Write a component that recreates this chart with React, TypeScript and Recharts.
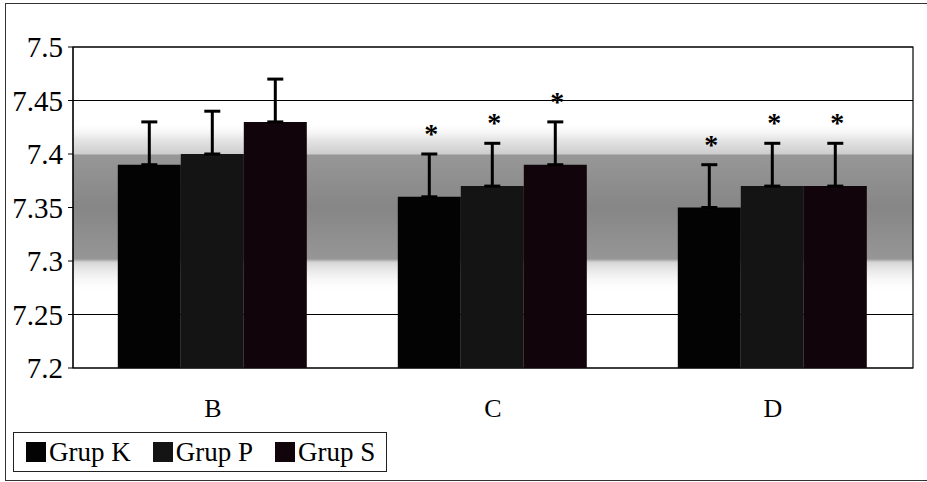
import { Bar, BarChart, CartesianGrid, ErrorBar, LabelList, ReferenceArea, XAxis, YAxis } from "recharts";

const categories = ["B", "C", "D"];
const grupK = [7.39, 7.36, 7.35];
const grupP = [7.4, 7.37, 7.37];
const grupS = [7.43, 7.39, 7.37];
const errK = [0.04, 0.04, 0.04];
const errP = [0.04, 0.04, 0.04];
const errS = [0.04, 0.04, 0.04];
const starK = [false, true, true];
const starP = [false, true, true];
const starS = [false, true, true];
const yTicks = [7.2, 7.25, 7.3, 7.35, 7.4, 7.45, 7.5];
const edgeTicks = [0, 1, 2, 3];

const Y_MIN = 7.2;
const FONT = "Liberation Serif";

const series = [
  { key: "K", name: "Grup K", err: errK, stars: starK, color: "#030303" },
  { key: "P", name: "Grup P", err: errP, stars: starP, color: "#141414" },
  { key: "S", name: "Grup S", err: errS, stars: starS, color: "#11040a" },
];

const data = categories.map((cat, i) => ({
  cat,
  edge: i + 0.5,
  K: grupK[i], P: grupP[i], S: grupS[i],
  errK: [0, errK[i]], errP: [0, errP[i]], errS: [0, errS[i]],
}));

// asterisk above the error cap; bar height gives the px-per-unit
function starLabel(stars: boolean[], errs: number[]) {
  return (p: any) => {
    const { x, y, width, height, value, index } = p;
    if (!stars[index]) return null;
    const perUnit = height / (Number(value) - Y_MIN);
    const capY = y - errs[index] * perUnit;
    return (
      <text key={`star-${index}`} x={x + width / 2 + 2} y={capY - 11} textAnchor="middle"
            fontSize={28} fontWeight="bold" fontFamily={FONT} fill="#000">*</text>
    );
  };
}

function LegendBox() {
  return (
    <div style={{ position: "absolute", left: 13, top: 432, width: 372, height: 38,
                  border: "1px solid #222", background: "#fff", display: "flex",
                  alignItems: "center", fontFamily: FONT, fontSize: 27 }}>
      {series.map((s, i) => (
        <div key={s.key} style={{ display: "flex", alignItems: "center",
                                  marginLeft: i === 0 ? 12 : 22 }}>
          <span style={{ width: 20, height: 20, background: s.color, display: "inline-block",
                         marginRight: 3 }} />
          <span style={{ lineHeight: "26px" }}>{s.name}</span>
        </div>
      ))}
    </div>
  );
}

export default function App() {
  return (
    <div style={{ position: "absolute", left: 0, top: 0, width: 927, height: 482,
                  background: "#fff", overflow: "hidden" }}>
      <div style={{ position: "absolute", left: 5, top: 3, width: 925, height: 476,
                    border: "1px solid #333" }} />
      <BarChart width={927} height={482} data={data} barCategoryGap="16%" barGap={0}
                margin={{ top: 47, right: 14, bottom: 54, left: 0 }}
                style={{ position: "absolute", left: 0, top: 0 }}>
        <defs>
          <linearGradient id="band" x1="0" y1="0" x2="0" y2="1">
            <stop offset="0" stopColor="#ffffff" stopOpacity={0} />
            <stop offset="0.1" stopColor="#e6e6e6" />
            <stop offset="0.185" stopColor="#cecece" />
            <stop offset="0.195" stopColor="#979797" />
            <stop offset="0.5" stopColor="#868686" />
            <stop offset="0.8" stopColor="#969696" />
            <stop offset="0.82" stopColor="#d6d6d6" />
            <stop offset="1" stopColor="#ffffff" stopOpacity={0} />
          </linearGradient>
        </defs>
        <ReferenceArea xAxisId="cat" y1={7.27} y2={7.43} fill="url(#band)" fillOpacity={1}
                       stroke="none" />
        <CartesianGrid vertical={false} stroke="#000" strokeWidth={1.2} xAxisId="cat" />
        <XAxis xAxisId="edge" type="number" dataKey="edge" domain={[0, 3]} ticks={edgeTicks}
               height={0} tick={false} tickSize={6} stroke="#000" allowDecimals />
        <XAxis xAxisId="cat" dataKey="cat" height={60} tickLine={false} axisLine={false}
               tickSize={6} tickMargin={25}
               tick={{ fill: "#000", fontSize: 26, fontFamily: FONT }} />
        <YAxis domain={[7.2, 7.5]} ticks={yTicks} width={73} tickSize={5} tickMargin={5}
               stroke="#000" interval={0} tickFormatter={(v: number) => String(v)}
               tick={{ fill: "#000", fontSize: 29, fontFamily: FONT }} />
        {series.map((s) => (
          <Bar key={s.key} xAxisId="cat" dataKey={s.key} name={s.name} fill={s.color}
               isAnimationActive={false}>
            <ErrorBar dataKey={`err${s.key}`} width={8} strokeWidth={3} stroke="#000"
                      direction="y" />
            <LabelList dataKey={s.key} content={starLabel(s.stars, s.err)} />
          </Bar>
        ))}
        <ReferenceArea xAxisId="cat" y1={7.2} y2={7.5} fill="none" stroke="#000"
                       strokeWidth={1.2} />
      </BarChart>
      <LegendBox />
    </div>
  );
}
